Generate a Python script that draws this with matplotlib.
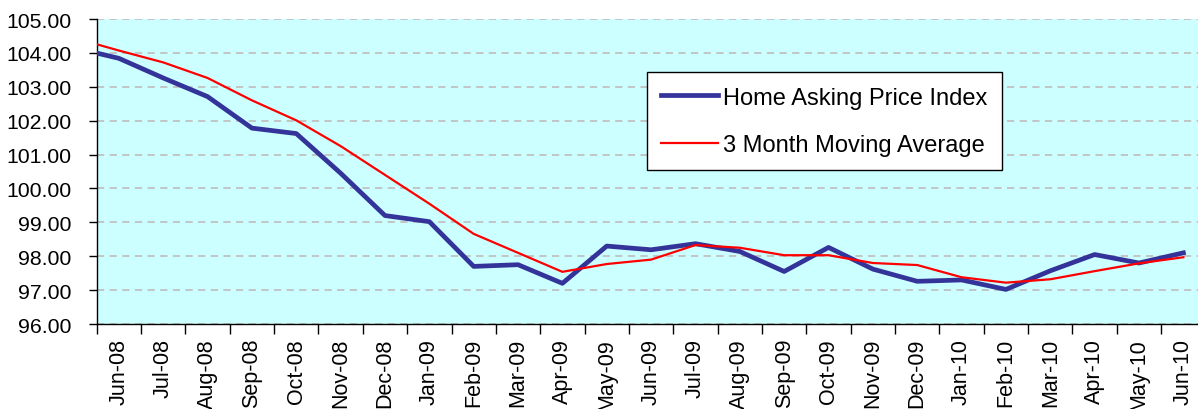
import numpy as np
import matplotlib
matplotlib.use("Agg")
import matplotlib.pyplot as plt
from matplotlib.ticker import FixedLocator, FormatStrFormatter

# months, May-08 sits just left of the visible area (clipped)
months = ['May-08', 'Jun-08', 'Jul-08', 'Aug-08', 'Sep-08', 'Oct-08', 'Nov-08',
          'Dec-08', 'Jan-09', 'Feb-09', 'Mar-09', 'Apr-09', 'May-09', 'Jun-09',
          'Jul-09', 'Aug-09', 'Sep-09', 'Oct-09', 'Nov-09', 'Dec-09', 'Jan-10',
          'Feb-10', 'Mar-10', 'Apr-10', 'May-10', 'Jun-10']

index_values = [104.15, 103.84, 103.26, 102.71, 101.78, 101.62, 100.45,
                99.20, 99.02, 97.70, 97.75, 97.20, 98.30, 98.19,
                98.37, 98.14, 97.55, 98.26, 97.62, 97.26, 97.30,
                97.02, 97.57, 98.05, 97.80, 98.10]

moving_avg = [104.44, 104.07, 103.72, 103.26, 102.60, 102.01, 101.25,
              100.40, 99.55, 98.66, 98.10, 97.54, 97.77, 97.90,
              98.33, 98.25, 98.03, 98.03, 97.80, 97.74, 97.38,
              97.22, 97.32, 97.56, 97.79, 97.97]

plt.rcParams['font.family'] = ['Liberation Sans', 'DejaVu Sans']
FS = 15

fig = plt.figure(figsize=(11.98, 4.10), dpi=100)
ax = fig.add_axes([0.0807, 0.2073, 0.9193, 0.7439])
ax.set_facecolor('#CCFFFF')

x = np.arange(len(months))
ax.plot(x, index_values, color='#333399', linewidth=3.4,
        label='Home Asking Price Index', zorder=3)
ax.plot(x, moving_avg, color='#FF0000', linewidth=1.6,
        label='3 Month Moving Average', zorder=4)

ax.set_xlim(0.5, 25.33)
ax.set_ylim(96, 105)

# y axis
ax.set_yticks(np.arange(96, 105.01, 1.0))
ax.yaxis.set_major_formatter(FormatStrFormatter('%.2f'))
ax.tick_params(axis='y', direction='out', length=6, width=1, pad=12,
               labelsize=15.3, colors='black')
ax.yaxis.grid(True, color='#C0C0C0', linestyle=(0, (4, 3)), linewidth=1.3)
ax.set_axisbelow(True)

# x axis: labels at months, tick marks between months
ax.xaxis.set_major_locator(FixedLocator(x[1:]))
ax.set_xticklabels(months[1:], rotation=90)
ax.xaxis.set_minor_locator(FixedLocator(x[1:] - 0.5))
ax.tick_params(axis='x', which='major', length=0, pad=10, labelsize=15.5)
ax.tick_params(axis='x', which='minor', direction='out', length=7, width=1)

for side in ['top', 'right']:
    ax.spines[side].set_visible(False)
for side in ['left', 'bottom']:
    ax.spines[side].set_color('black')
    ax.spines[side].set_linewidth(1)

leg = ax.legend(loc='upper left', bbox_to_anchor=(0.4994, 0.825),
                fontsize=17, frameon=True, fancybox=False, borderpad=0.6,
                handlelength=2.4, handletextpad=0.25, labelspacing=1.08,
                borderaxespad=0)
leg.get_frame().set_edgecolor('black')
leg.get_frame().set_linewidth(1)
leg.get_frame().set_facecolor('white')
leg.get_frame().set_alpha(1)

fig.savefig('out.png', dpi=100)
